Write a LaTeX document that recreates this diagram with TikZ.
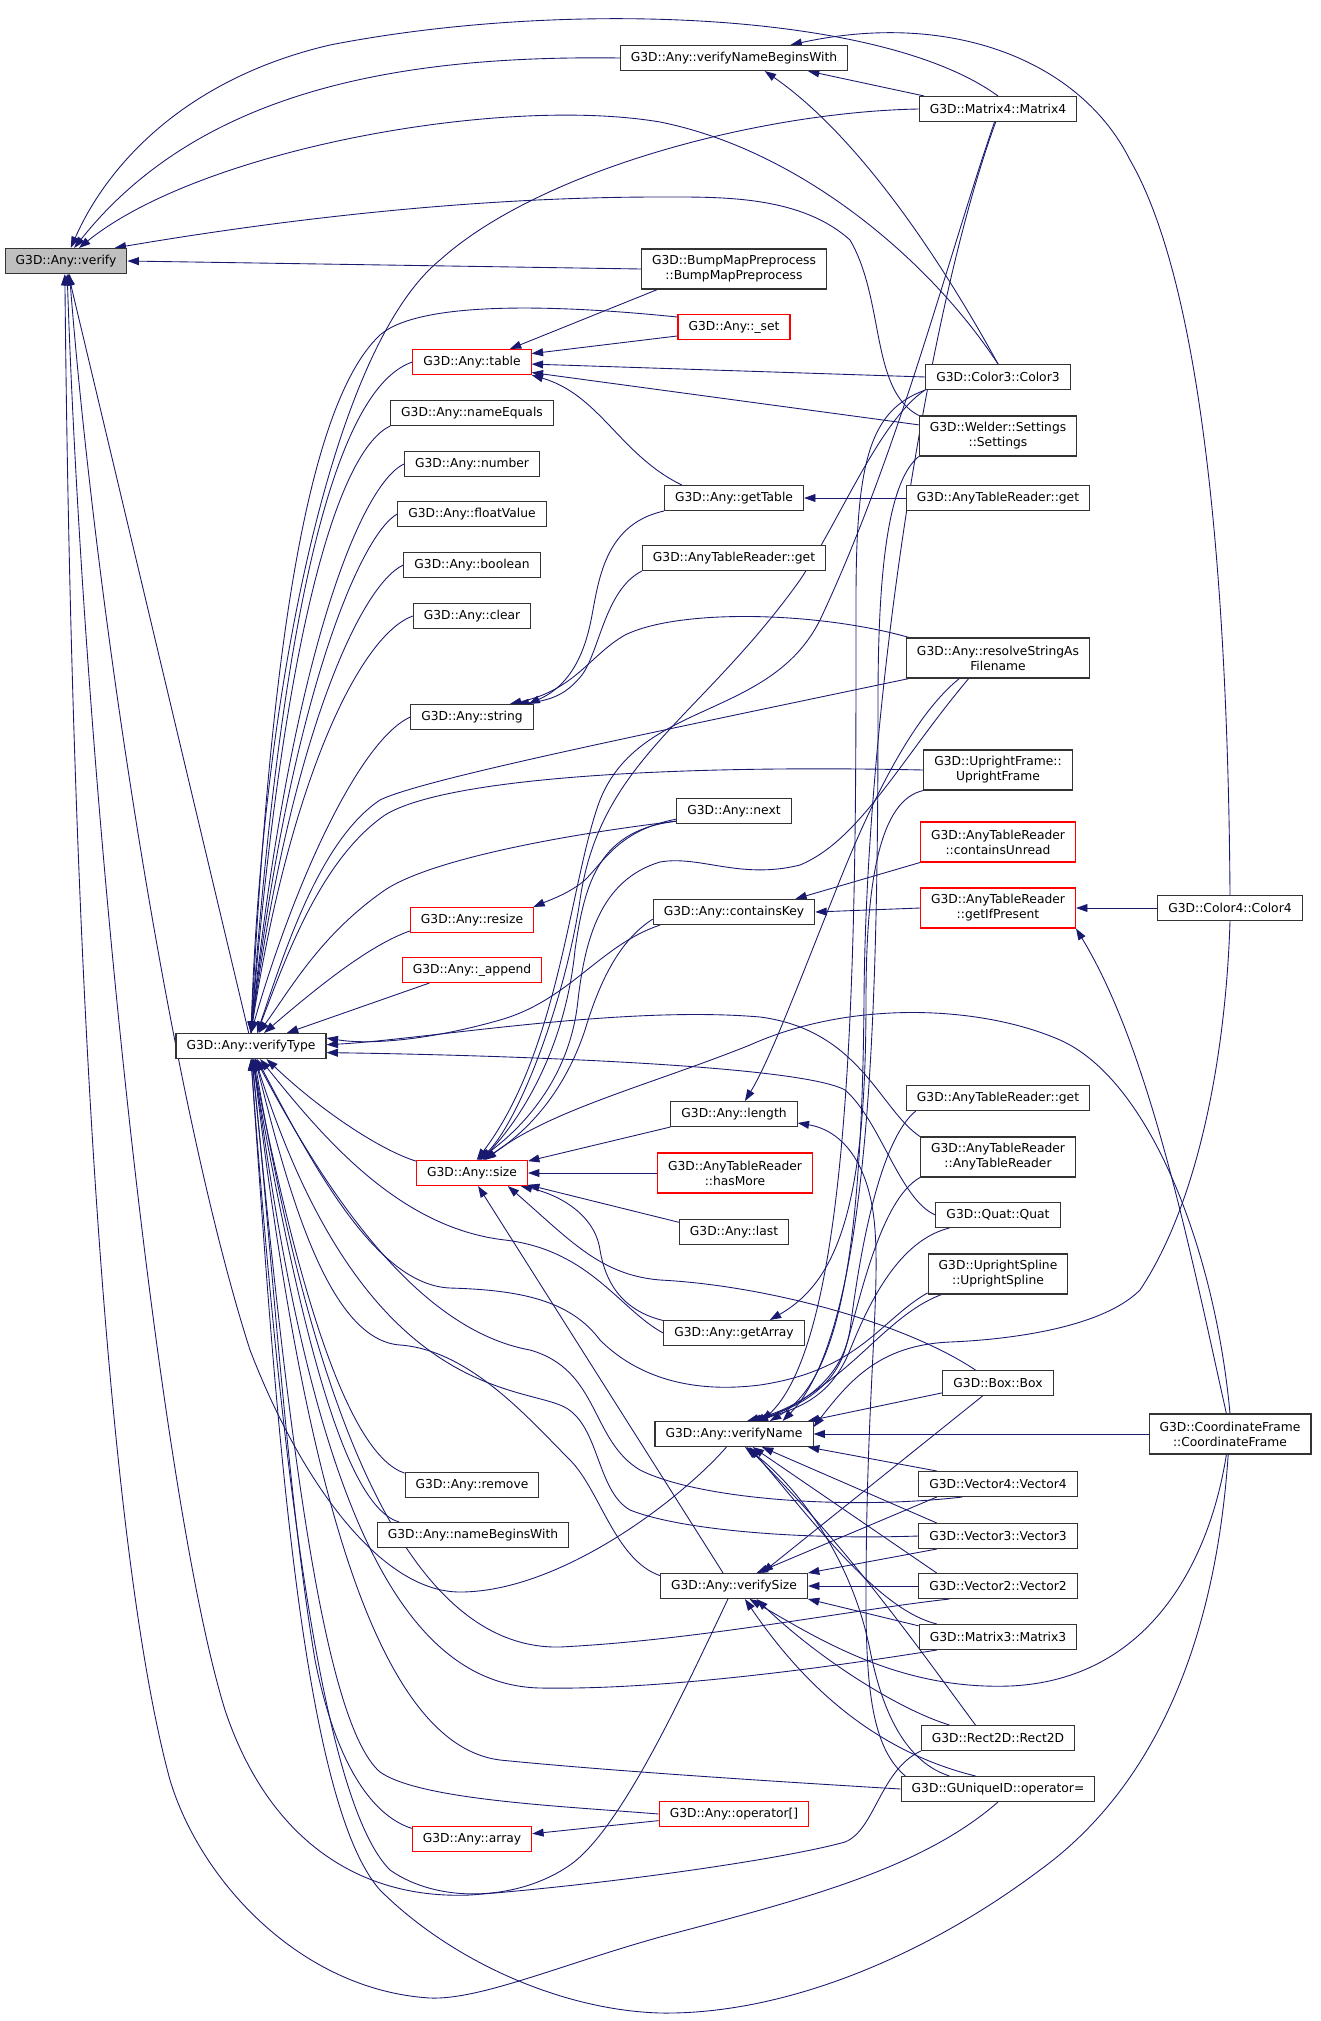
\documentclass[tikz,border=0pt]{standalone}
\usepackage{fontspec}
\setmainfont{DejaVu Sans}
\usetikzlibrary{arrows.meta}
\definecolor{edgenavy}{HTML}{191970}
\definecolor{boxred}{HTML}{FF0000}
\pgfdeclarelayer{background}
\pgfsetlayers{background,main}
\tikzset{
  fn/.style={draw=black!80, line width=0.6pt, fill=white, minimum height=0.5cm,
    inner xsep=6pt, inner ysep=0pt, font=\fontsize{7}{8.5}\selectfont},
  fntwo/.style={fn, minimum height=0.8cm, align=center},
  missing/.style={draw=boxred},
  root/.style={fill=black!25},
  call/.style={draw=edgenavy, line width=0.5pt, -{Triangle[length=6.5pt,width=4.5pt]}}
}
\begin{document}
\begin{tikzpicture}[x=0.02cm, y=-0.02cm]
    \useasboundingbox (0,0) rectangle (1320,2021);

    % Root and verifyType
    \node[fn, root] (verify) at (66,261) {G3D::Any::verify};
    \node[fn] (vtype) at (251,1046) {G3D::Any::verifyType};

    % Second column
    \node[fn, missing] (table) at (472,362) {G3D::Any::table};
    \node[fn] (nameeq) at (472,413) {G3D::Any::nameEquals};
    \node[fn] (number) at (472,464) {G3D::Any::number};
    \node[fn] (floatv) at (472,514) {G3D::Any::floatValue};
    \node[fn] (boolean) at (472,565) {G3D::Any::boolean};
    \node[fn] (clear) at (472,616) {G3D::Any::clear};
    \node[fn] (string) at (472,717) {G3D::Any::string};
    \node[fn, missing] (resize) at (472,920) {G3D::Any::resize};
    \node[fn, missing] (append) at (472,970) {G3D::Any::\_append};
    \node[fn, missing] (size) at (472,1173) {G3D::Any::size};
    \node[fn] (remove) at (472,1485) {G3D::Any::remove};
    \node[fn] (nbw) at (473,1535) {G3D::Any::nameBeginsWith};
    \node[fn, missing] (array) at (472,1839) {G3D::Any::array};

    % Third column
    \node[fn] (vnbw) at (734,58) {G3D::Any::verifyNameBeginsWith};
    \node[fntwo] (bump) at (734,269) {G3D::BumpMapPreprocess\\::BumpMapPreprocess};
    \node[fn, missing] (set) at (734,327) {G3D::Any::\_set};
    \node[fn] (gettable) at (734,498) {G3D::Any::getTable};
    \node[fn] (atrgetA) at (734,558) {G3D::AnyTableReader::get};
    \node[fn] (next) at (734,811) {G3D::Any::next};
    \node[fn] (ckey) at (734,912) {G3D::Any::containsKey};
    \node[fn] (length) at (734,1114) {G3D::Any::length};
    \node[fntwo, missing] (hasmore) at (735,1173) {G3D::AnyTableReader\\::hasMore};
    \node[fn] (last) at (734,1232) {G3D::Any::last};
    \node[fn] (getarray) at (734,1333) {G3D::Any::getArray};
    \node[fn] (vname) at (734,1434) {G3D::Any::verifyName};
    \node[fn] (vsize) at (734,1586) {G3D::Any::verifySize};
    \node[fn, missing] (opidx) at (734,1814) {G3D::Any::operator[]};

    % Fourth column
    \node[fn] (mat4) at (998,109) {G3D::Matrix4::Matrix4};
    \node[fn] (col3) at (998,377) {G3D::Color3::Color3};
    \node[fntwo] (welder) at (998,436) {G3D::Welder::Settings\\::Settings};
    \node[fn] (atrgetB) at (998,498) {G3D::AnyTableReader::get};
    \node[fntwo] (resolve) at (998,658) {G3D::Any::resolveStringAs\\Filename};
    \node[fntwo] (upframe) at (998,770) {G3D::UprightFrame::\\UprightFrame};
    \node[fntwo, missing] (cunread) at (998,842) {G3D::AnyTableReader\\::containsUnread};
    \node[fntwo, missing] (getifp) at (998,908) {G3D::AnyTableReader\\::getIfPresent};
    \node[fn] (atrgetC) at (998,1098) {G3D::AnyTableReader::get};
    \node[fntwo] (atrctor) at (998,1157) {G3D::AnyTableReader\\::AnyTableReader};
    \node[fn] (quat) at (998,1215) {G3D::Quat::Quat};
    \node[fntwo] (uspline) at (998,1274) {G3D::UprightSpline\\::UprightSpline};
    \node[fn] (box) at (998,1383) {G3D::Box::Box};
    \node[fn] (vec4) at (998,1484) {G3D::Vector4::Vector4};
    \node[fn] (vec3) at (998,1536) {G3D::Vector3::Vector3};
    \node[fn] (vec2) at (998,1586) {G3D::Vector2::Vector2};
    \node[fn] (mat3) at (998,1637) {G3D::Matrix3::Matrix3};
    \node[fn] (rect) at (998,1738) {G3D::Rect2D::Rect2D};
    \node[fn] (guid) at (998,1789) {G3D::GUniqueID::operator=};

    % Last column
    \node[fn] (col4) at (1230,908) {G3D::Color4::Color4};
    \node[fntwo] (cframe) at (1230,1434) {G3D::CoordinateFrame\\::CoordinateFrame};

    \begin{pgfonlayer}{background}
    % Calls into verify
    \draw[call] (vnbw.west) .. controls (400,55) and (200,90) .. (verify.58);
    \draw[call] (mat4.north) .. controls (880,10) and (560,0) .. (330,45) .. controls (180,80) and (105,170) .. (verify.70);
    \draw[call] (col3.north) .. controls (930,260) and (800,150) .. (660,122) .. controls (500,95) and (200,150) .. (verify.45);
    \draw[call] (welder.north west) .. controls (870,390) and (885,300) .. (850,240) .. controls (800,195) and (720,197) .. (660,197) .. controls (450,197) and (250,225) .. (verify.15);
    \draw[call] (bump.west) -- (verify.east);
    \draw[call] (vtype.100) -- (verify.-80);
    \draw[call] (vname.-120) .. controls (680,1500) and (560,1592) .. (460,1592) .. controls (380,1592) and (300,1480) .. (250,1350) .. controls (170,1100) and (95,600) .. (verify.-75);
    \draw[call] (rect.south west) .. controls (880,1770) and (875,1830) .. (845,1842) .. controls (780,1860) and (600,1885) .. (470,1895) .. controls (350,1900) and (265,1830) .. (225,1710) .. controls (160,1500) and (85,800) .. (verify.-85);
    \draw[call] (guid.south) .. controls (920,1870) and (800,1900) .. (660,1937) .. controls (560,1965) and (480,2000) .. (430,1998) .. controls (300,1990) and (200,1880) .. (170,1780) .. controls (110,1560) and (72,1000) .. (verify.-95);

    % verifyNameBeginsWith
    \draw[call] (mat4.170) -- (vnbw.-10);
    \draw[call] (col3.north) .. controls (930,240) and (850,130) .. (vnbw.-23);
    \draw[call] (col4.north) .. controls (1228,600) and (1205,290) .. (1130,160) .. controls (1080,60) and (950,10) .. (vnbw.13);

    % table, getTable, string
    \draw[call] (bump.-165) -- (table.19);
    \draw[call] (set.-171) -- (table.8);
    \draw[call] (col3.west) -- (table.-2);
    \draw[call] (welder.172) -- (table.-10);
    \draw[call] (gettable.166) .. controls (620,455) and (600,395) .. (table.south east);
    \draw[call] (atrgetB.west) -- (gettable.east);
    \draw[call] (gettable.south west) .. controls (600,525) and (598,590) .. (590,625) .. controls (580,670) and (560,690) .. (string.13);
    \draw[call] (atrgetA.south west) .. controls (605,590) and (600,650) .. (582,675) .. controls (568,692) and (555,700) .. (string.16);
    \draw[call] (resolve.167) .. controls (820,612) and (680,608) .. (625,635) .. controls (590,655) and (575,690) .. (string.19);

    % verifyType, from above
    \draw[call] (table.west) .. controls (345,385) and (285,560) .. (vtype.north);
    \draw[call] (nameeq.south west) .. controls (340,450) and (285,620) .. (vtype.north);
    \draw[call] (number.west) .. controls (360,485) and (290,660) .. (vtype.north);
    \draw[call] (floatv.west) .. controls (360,535) and (290,700) .. (vtype.north);
    \draw[call] (boolean.west) .. controls (360,585) and (290,740) .. (vtype.north);
    \draw[call] (clear.west) .. controls (360,635) and (290,780) .. (vtype.north);
    \draw[call] (string.west) .. controls (360,740) and (295,880) .. (vtype.north);
    \draw[call] (set.170) .. controls (560,305) and (420,300) .. (380,335) .. controls (300,410) and (268,700) .. (vtype.north);
    \draw[call] (mat4.west) .. controls (760,112) and (540,170) .. (440,260) .. controls (330,350) and (262,700) .. (vtype.north);
    \draw[call] (resolve.-167) .. controls (640,735) and (420,780) .. (380,800) .. controls (320,840) and (285,950) .. (vtype.65);
    \draw[call] (upframe.west) .. controls (700,765) and (450,775) .. (385,815) .. controls (320,860) and (285,960) .. (vtype.65);
    \draw[call] (next.190) .. controls (560,835) and (430,860) .. (385,890) .. controls (320,935) and (290,990) .. (vtype.60);
    \draw[call] (resize.-170) .. controls (370,945) and (320,985) .. (vtype.45);
    \draw[call] (append.-163) -- (vtype.20);

    % verifyType, from the right
    \draw[call] (ckey.-170) .. controls (600,945) and (570,1000) .. (500,1020) .. controls (430,1040) and (370,1045) .. (vtype.6);
    \draw[call] (atrctor.north west) .. controls (880,1110) and (860,1030) .. (760,1017) .. controls (620,1005) and (420,1040) .. (vtype.1);
    \draw[call] (quat.west) .. controls (900,1200) and (880,1120) .. (845,1090) .. controls (800,1065) and (500,1055) .. (vtype.-5);

    % verifyType, from below
    \draw[call] (size.168) .. controls (380,1150) and (320,1110) .. (vtype.-40);
    \draw[call] (getarray.west) .. controls (620,1310) and (590,1250) .. (505,1240) .. controls (400,1228) and (325,1140) .. (vtype.-55);
    \draw[call] (uspline.-165) .. controls (880,1320) and (860,1370) .. (760,1385) .. controls (680,1395) and (630,1370) .. (600,1340) .. controls (570,1300) and (520,1290) .. (450,1288) .. controls (380,1285) and (320,1180) .. (vtype.-65);
    \draw[call] (vec4.-160) .. controls (850,1510) and (700,1500) .. (640,1470) .. controls (590,1440) and (600,1370) .. (530,1350) .. controls (420,1330) and (330,1200) .. (vtype.-70);
    \draw[call] (vec3.west) .. controls (800,1540) and (680,1530) .. (630,1510) .. controls (595,1490) and (600,1420) .. (560,1405) .. controls (510,1385) and (360,1390) .. (vtype.-72);
    \draw[call] (vec2.-165) .. controls (850,1610) and (700,1640) .. (560,1647) .. controls (420,1650) and (320,1450) .. (vtype.-75);
    \draw[call] (mat3.-168) .. controls (800,1672) and (650,1690) .. (540,1688) .. controls (400,1685) and (310,1500) .. (vtype.-78);
    \draw[call] (guid.west) .. controls (750,1780) and (600,1770) .. (500,1760) .. controls (380,1745) and (305,1500) .. (vtype.-80);
    \draw[call] (opidx.west) .. controls (560,1806) and (420,1800) .. (380,1772) .. controls (320,1720) and (285,1400) .. (vtype.-85);
    \draw[call] (array.170) .. controls (370,1815) and (335,1760) .. (315,1660) .. controls (285,1480) and (268,1200) .. (vtype.-88);
    \draw[call] (nbw.170) .. controls (340,1505) and (295,1300) .. (vtype.-85);
    \draw[call] (remove.170) .. controls (350,1455) and (300,1300) .. (vtype.-83);
    \draw[call] (vsize.172) .. controls (615,1560) and (600,1490) .. (570,1460) .. controls (530,1420) and (470,1350) .. (400,1345) .. controls (330,1340) and (290,1200) .. (vtype.-72);
    \draw[call] (vsize.-115) .. controls (680,1700) and (620,1830) .. (570,1865) .. controls (520,1900) and (440,1905) .. (390,1870) .. controls (320,1800) and (280,1450) .. (vtype.-90);
    \draw[call] (cframe.-95) .. controls (1215,1650) and (1150,1790) .. (1040,1870) .. controls (920,1960) and (780,2015) .. (660,2013) .. controls (560,2010) and (450,1960) .. (380,1890) .. controls (300,1800) and (275,1400) .. (vtype.-90);

    % verifyName
    \draw[call] (mat4.-100) .. controls (930,300) and (866,700) .. (864,1000) .. controls (862,1250) and (840,1380) .. (vname.20);
    \draw[call] (col3.south west) .. controls (870,410) and (856,460) .. (856,600) .. controls (856,900) and (858,1330) .. (vname.25);
    \draw[call] (welder.south west) .. controls (890,480) and (878,560) .. (878,700) .. controls (878,1000) and (872,1330) .. (vname.15);
    \draw[call] (atrgetC.-171) .. controls (880,1140) and (860,1250) .. (850,1330) .. controls (842,1380) and (800,1405) .. (vname.30);
    \draw[call] (atrctor.south west) .. controls (880,1200) and (860,1300) .. (845,1350) .. controls (832,1392) and (790,1410) .. (vname.35);
    \draw[call] (quat.-165) .. controls (900,1240) and (870,1300) .. (850,1350) .. controls (832,1395) and (800,1410) .. (vname.40);
    \draw[call] (uspline.-160) .. controls (900,1310) and (870,1350) .. (830,1380) .. controls (810,1395) and (790,1410) .. (vname.45);
    \draw[call] (box.-170) -- (vname.10);
    \draw[call] (cframe.west) -- (vname.east);
    \draw[call] (col4.south) .. controls (1226,1050) and (1200,1200) .. (1140,1290) .. controls (1100,1330) and (1000,1340) .. (950,1342) .. controls (880,1345) and (850,1380) .. (vname.5);
    \draw[call] (vec4.168) -- (vname.-10);
    \draw[call] (vec3.168) -- (vname.-25);
    \draw[call] (vec2.168) -- (vname.-35);
    \draw[call] (mat3.168) .. controls (880,1610) and (820,1530) .. (vname.-40);
    \draw[call] (rect.150) .. controls (920,1650) and (850,1550) .. (vname.-45);
    \draw[call] (guid.165) .. controls (900,1760) and (880,1700) .. (870,1650) .. controls (850,1550) and (790,1480) .. (vname.-50);

    % length and getArray
    \draw[call] (resolve.-152) .. controls (920,710) and (880,780) .. (840,880) .. controls (800,980) and (770,1060) .. (length.50);
    \draw[call] (guid.172) .. controls (875,1750) and (866,1700) .. (866,1600) .. controls (866,1400) and (880,1300) .. (875,1230) .. controls (870,1160) and (840,1130) .. (length.-8);
    \draw[call] (upframe.south west) .. controls (880,800) and (866,880) .. (866,1000) .. controls (866,1200) and (840,1280) .. (getarray.20);

    % containsKey, resize, getIfPresent
    \draw[call] (cunread.south west) -- (ckey.12);
    \draw[call] (getifp.west) -- (ckey.east);
    \draw[call] (next.188) .. controls (620,830) and (605,860) .. (585,880) .. controls (570,893) and (550,900) .. (resize.12);
    \draw[call] (col4.west) -- (getifp.east);
    \draw[call] (cframe.100) .. controls (1190,1250) and (1150,1050) .. (getifp.south east);

    % size
    \draw[call] (mat4.-105) .. controls (950,250) and (900,450) .. (820,620) .. controls (770,720) and (640,700) .. (600,800) .. controls (570,880) and (560,1050) .. (size.70);
    \draw[call] (col3.-170) .. controls (880,420) and (840,520) .. (800,580) .. controls (700,720) and (600,760) .. (580,900) .. controls (565,1000) and (520,1120) .. (size.60);
    \draw[call] (next.-170) .. controls (600,830) and (585,880) .. (575,950) .. controls (565,1050) and (520,1120) .. (size.55);
    \draw[call] (ckey.-175) .. controls (620,940) and (600,980) .. (585,1030) .. controls (565,1090) and (530,1130) .. (size.50);
    \draw[call] (resolve.-145) .. controls (900,760) and (860,840) .. (800,865) .. controls (740,880) and (700,855) .. (660,862) .. controls (600,880) and (585,940) .. (578,1000) .. controls (570,1080) and (520,1130) .. (size.65);
    \draw[call] (cframe.north) .. controls (1215,1250) and (1150,1080) .. (1060,1040) .. controls (980,1005) and (850,1000) .. (750,1045) .. controls (650,1085) and (550,1110) .. (size.45);
    \draw[call] (length.south west) -- (size.12);
    \draw[call] (hasmore.west) -- (size.east);
    \draw[call] (last.170) -- (size.-12);
    \draw[call] (getarray.170) .. controls (620,1310) and (605,1280) .. (600,1250) .. controls (595,1215) and (560,1195) .. (size.-15);
    \draw[call] (box.150) .. controls (900,1320) and (760,1285) .. (660,1280) .. controls (600,1275) and (570,1240) .. (size.-20);
    \draw[call] (vsize.130) -- (size.-65);

    % verifySize
    \draw[call] (box.-140) -- (vsize.25);
    \draw[call] (vec4.-168) -- (vsize.30);
    \draw[call] (vec3.-168) -- (vsize.10);
    \draw[call] (vec2.west) -- (vsize.east);
    \draw[call] (mat3.172) -- (vsize.-10);
    \draw[call] (rect.165) .. controls (900,1710) and (820,1660) .. (vsize.-30);
    \draw[call] (guid.150) .. controls (870,1750) and (800,1680) .. (vsize.-50);
    \draw[call] (cframe.-100) .. controls (1210,1560) and (1150,1680) .. (1010,1686) .. controls (900,1690) and (820,1640) .. (vsize.-40);

    % array
    \draw[call] (opidx.-175) -- (array.5);
    \end{pgfonlayer}
\end{tikzpicture}
\end{document}
